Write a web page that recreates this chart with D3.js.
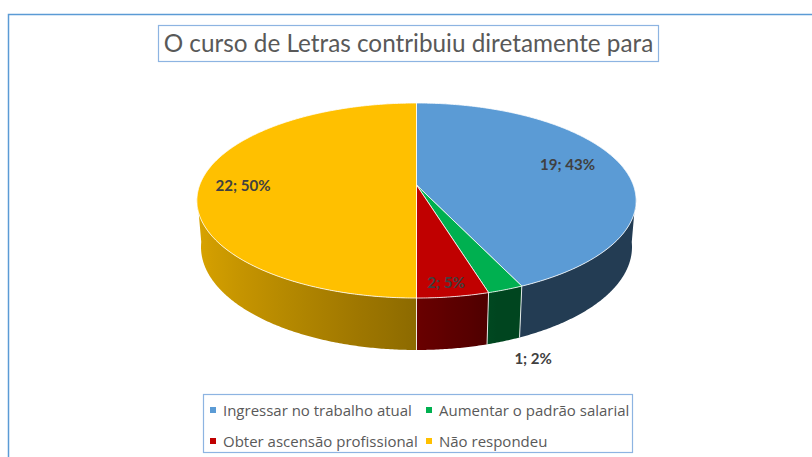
<!DOCTYPE html>
<html>
<head>
<meta charset="utf-8">
<script src="https://cdn.jsdelivr.net/npm/d3@7"></script>
<style>
body { margin: 0; background: #fff; }
svg { display: block; }
</style>
</head>
<body>
<svg width="812" height="457"></svg>
<script>
var title = "O curso de Letras contribuiu diretamente para";
var categories = ["Ingressar no trabalho atual", "Aumentar o padrão salarial", "Obter ascensão profissional", "Não respondeu"];
var values = [19, 1, 2, 22];
var colors = ["#5B9BD5", "#00B050", "#C00000", "#FFC000"];

var svg = d3.select("svg");
var defs = svg.append("defs");
var total = d3.sum(values);
var pct = d3.format(".0%");

// moldura do grafico
svg.append("rect")
	.attr("x", 8.5).attr("y", 14.5).attr("width", 900).attr("height", 500)
	.attr("fill", "none").attr("stroke", "#5B9BD5").attr("stroke-width", 1.5);

// projecao 3D com perspectiva
var cx = 416.5, cy = 185, f = 1225, D = 5.65;
var phi = 26 * Math.PI / 180, cs = Math.cos(phi), sn = Math.sin(phi);
var thick = 0.24;

function proj(a, r, Y) {
	var X = r * Math.sin(a), Z = -r * Math.cos(a);
	var d = D - (Y * sn + Z * cs);
	var u = Y * cs - Z * sn;
	return [cx + f * X / d, cy - f * u / d];
}

function shade(a) {
	var deg = a * 180 / Math.PI;
	if (deg >= 180) return 0.55 + 0.31 * Math.sin(a - Math.PI);
	return Math.max(0.39, 0.55 - (180 - deg) * 0.0085);
}

function darker(col, k) {
	var c = d3.rgb(col);
	return d3.rgb(c.r * k, c.g * k, c.b * k).toString();
}

var pie = d3.pie().sort(null).startAngle(0).endAngle(2 * Math.PI);
var arcs = pie(values);
var line = d3.line();
var step = Math.PI / 360;

// faixa visivel da lateral
var aVis0 = Math.acos(-cs / D), aVis1 = 2 * Math.PI - aVis0;

// laterais
arcs.forEach(function(s, i) {
	var a0 = Math.max(s.startAngle, aVis0 - 0.05), a1 = Math.min(s.endAngle, aVis1 + 0.05);
	if (a1 <= a0) return;
	var n = Math.max(2, Math.ceil((a1 - a0) / step));
	var top = [], bot = [];
	for (var j = 0; j <= n; j++) {
		var a = a0 + (a1 - a0) * j / n;
		top.push(proj(a, 1, 0));
		bot.push(proj(a, 1, -thick));
	}
	// gradiente horizontal de sombreamento
	var g0 = Math.max(a0, aVis0), g1 = Math.min(a1, aVis1);
	var x0 = proj(g0, 1, 0)[0], x1 = proj(g1, 1, 0)[0];
	var grad = defs.append("linearGradient")
		.attr("id", "side" + i)
		.attr("gradientUnits", "userSpaceOnUse")
		.attr("x1", x0).attr("x2", x1).attr("y1", 0).attr("y2", 0);
	for (var k = 0; k <= 12; k++) {
		var ga = g0 + (g1 - g0) * k / 12;
		var gx = proj(ga, 1, 0)[0];
		grad.append("stop")
			.attr("offset", x1 === x0 ? 0 : (gx - x0) / (x1 - x0))
			.attr("stop-color", darker(colors[i], shade(ga)));
	}
	svg.append("path")
		.attr("d", line(top.concat(bot.reverse())) + "Z")
		.attr("fill", "url(#side" + i + ")");
});

// divisoes das laterais
arcs.forEach(function(s) {
	var a = s.startAngle;
	if (a > aVis0 && a < aVis1) {
		svg.append("path")
			.attr("d", line([proj(a, 1, 0), proj(a, 1, -thick)]))
			.attr("stroke", "#fff").attr("stroke-opacity", 0.85).attr("stroke-width", 1);
	}
});

// tampa
svg.append("g").selectAll("path").data(arcs).enter().append("path")
	.attr("d", function(s) {
		var pts = [proj(0, 0, 0)];
		var n = Math.max(2, Math.ceil((s.endAngle - s.startAngle) / step));
		for (var j = 0; j <= n; j++) {
			pts.push(proj(s.startAngle + (s.endAngle - s.startAngle) * j / n, 1, 0));
		}
		return line(pts) + "Z";
	})
	.attr("fill", function(s, i) { return colors[i]; })
	.attr("stroke", "rgba(255,255,255,0.8)")
	.attr("stroke-width", 1)
	.attr("stroke-linejoin", "round");

function fit(sel, target) {
	var len = sel.node().getComputedTextLength();
	var fs = parseFloat(sel.attr("font-size"));
	return fs * target / len;
}

// rotulos
var labelOpts = [{ da: -5.7, r: 0.76, Y: 0 }, { da: -3, r: 1.15, Y: -thick }, { da: 0.6, r: 0.886, Y: 0 }, { da: 0, r: 0.8, Y: 0 }];
var labels = svg.append("g").selectAll("text").data(arcs).enter().append("text")
	.attr("font-family", "Lato, sans-serif")
	.attr("font-weight", "bold")
	.attr("font-size", 14)
	.attr("fill", "#404040")
	.attr("text-anchor", "middle")
	.attr("dominant-baseline", "central")
	.text(function(s, i) { return values[i] + "; " + pct(values[i] / total); });
var lfs = fit(labels.filter(function(s, i) { return i === 0; }), 55);
labels.attr("font-size", lfs)
	.each(function(s, i) {
		var o = labelOpts[i];
		var a = (s.startAngle + s.endAngle) / 2 + o.da * Math.PI / 180;
		var p = proj(a, o.r, o.Y);
		d3.select(this).attr("x", p[0]).attr("y", p[1]);
	});

// titulo
svg.append("rect")
	.attr("x", 158.5).attr("y", 25.5).attr("width", 500).attr("height", 36)
	.attr("fill", "#fff").attr("stroke", "#8DB4E2").attr("stroke-width", 1.2);
var tt = svg.append("text")
	.attr("x", 408.5).attr("y", 52)
	.attr("text-anchor", "middle")
	.attr("font-family", "Lato, sans-serif")
	.attr("font-size", 24)
	.attr("fill", "#595959")
	.text(title);
tt.attr("font-size", fit(tt, 490));

// legenda
svg.append("rect")
	.attr("x", 203.5).attr("y", 394.5).attr("width", 429).attr("height", 58)
	.attr("fill", "#fff").attr("stroke", "#8DB4E2").attr("stroke-width", 1.2);
var leg = svg.append("g").selectAll("g").data(categories).enter().append("g")
	.attr("transform", function(d, i) {
		return "translate(" + (213 + (i % 2) * 216) + "," + (410 + Math.floor(i / 2) * 31) + ")";
	});
leg.append("rect")
	.attr("x", -3).attr("y", -3).attr("width", 6).attr("height", 6)
	.attr("fill", function(d, i) { return colors[i]; });
var lt = leg.append("text")
	.attr("x", 10)
	.attr("dominant-baseline", "central")
	.attr("font-family", "'Open Sans', sans-serif")
	.attr("font-size", 13)
	.attr("fill", "#595959")
	.text(function(d) { return d; });
lt.attr("font-size", fit(lt.filter(function(d, i) { return i === 0; }), 189));
</script>
</body>
</html>
